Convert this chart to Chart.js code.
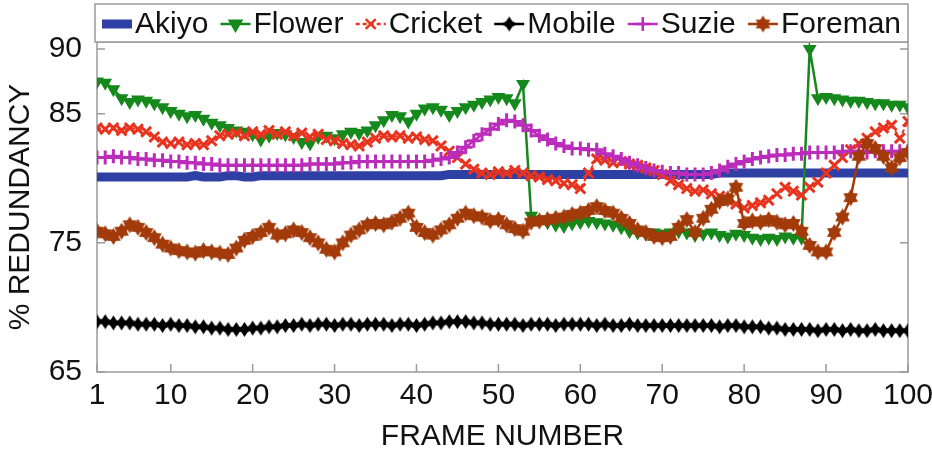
<!DOCTYPE html>
<html>
<head>
<meta charset="utf-8">
<script src="https://cdn.jsdelivr.net/npm/chart.js@4.4.1/dist/chart.umd.min.js"></script>
<style>
  html, body { margin: 0; padding: 0; background: #fff; }
  #wrap { width: 932px; height: 458px; }
</style>
</head>
<body>
<div id="wrap"><canvas id="chart" width="932" height="458"></canvas></div>
<script>
const frames = Array.from({ length: 100 }, (_, i) => i + 1);
const xTicks = [1, 10, 20, 30, 40, 50, 60, 70, 80, 90, 100];
const yTicks = [65, 75, 85, 90];

const akiyo = [
  80.1, 80.1, 80.1, 80.1, 80.1, 80.1, 80.1, 80.1, 80.1, 80.1,
  80.1, 80.1, 80.2, 80.1, 80.1, 80.1, 80.2, 80.2, 80.1, 80.1,
  80.2, 80.2, 80.2, 80.2, 80.2, 80.2, 80.2, 80.2, 80.2, 80.2,
  80.2, 80.2, 80.2, 80.2, 80.2, 80.2, 80.2, 80.2, 80.2, 80.2,
  80.2, 80.2, 80.2, 80.3, 80.3, 80.3, 80.3, 80.3, 80.3, 80.3,
  80.3, 80.3, 80.3, 80.3, 80.3, 80.3, 80.3, 80.3, 80.3, 80.3,
  80.3, 80.3, 80.3, 80.3, 80.3, 80.3, 80.3, 80.3, 80.3, 80.3,
  80.3, 80.3, 80.3, 80.3, 80.3, 80.3, 80.4, 80.4, 80.4, 80.4,
  80.4, 80.4, 80.4, 80.4, 80.4, 80.4, 80.4, 80.4, 80.4, 80.4,
  80.4, 80.4, 80.4, 80.4, 80.4, 80.4, 80.4, 80.4, 80.4, 80.4
];
const flower = [
  87.5, 87.4, 86.9, 86.2, 85.9, 86.1, 86.0, 85.8, 85.5, 85.2,
  85.0, 84.8, 84.9, 84.6, 84.3, 84.1, 83.9, 83.7, 83.6, 83.4,
  83.0, 83.3, 83.5, 83.4, 83.2, 82.8, 82.7, 83.2, 83.3, 83.1,
  83.4, 83.6, 83.5, 83.7, 84.1, 84.5, 84.9, 84.8, 84.4, 85.0,
  85.4, 85.5, 85.3, 84.9, 85.2, 85.5, 85.7, 85.9, 86.1, 86.3,
  86.2, 85.8, 87.3, 77.1, 76.8, 76.6, 76.4, 76.3, 76.5, 76.6,
  76.7, 76.6, 76.5, 76.4, 76.2, 75.9, 75.8, 75.7, 75.8, 75.7,
  75.8, 75.9, 75.8, 75.6, 75.7, 75.8, 75.6, 75.5, 75.7, 75.6,
  75.4, 75.3, 75.4, 75.3, 75.5, 75.4, 75.4, 90.0, 86.2, 86.3,
  86.2, 86.1, 86.0, 86.0, 85.9, 85.8, 85.8, 85.7, 85.7, 85.5
];
const cricket = [
  83.9, 83.8, 83.9, 83.7, 83.9, 83.8, 83.6, 83.2, 82.8, 82.7,
  82.8, 82.6, 82.7, 82.6, 82.9, 83.3, 83.4, 83.5, 83.3, 83.6,
  83.4, 83.7, 83.4, 83.6, 83.3, 83.5, 83.2, 83.4, 83.0, 82.9,
  82.7, 82.6, 82.5, 82.8, 83.1, 83.3, 83.2, 83.3, 83.1, 83.2,
  83.0, 82.9, 82.5, 82.1, 81.6, 81.1, 80.7, 80.4, 80.3, 80.5,
  80.4, 80.6, 80.4, 80.2, 80.1, 79.9, 79.8, 79.6, 79.5, 79.2,
  80.4, 81.5, 81.4, 81.2, 81.3, 81.1, 81.0, 80.8, 80.6, 80.3,
  79.8, 79.5, 79.2, 79.0, 79.1, 78.8, 78.6, 78.3, 78.0, 77.7,
  77.9, 78.1, 78.3, 78.8, 79.3, 79.0, 78.7, 79.3, 79.7, 80.4,
  81.0, 81.6, 82.2, 82.7, 83.1, 83.6, 83.9, 84.1, 83.1, 84.4
];
const mobile = [
  68.9, 68.9, 68.8, 68.8, 68.8, 68.7, 68.7, 68.7, 68.6, 68.7,
  68.6, 68.6, 68.5, 68.5, 68.4, 68.4, 68.3, 68.3, 68.3, 68.4,
  68.4, 68.5, 68.5, 68.6, 68.6, 68.7, 68.6, 68.7, 68.7, 68.6,
  68.7, 68.7, 68.6, 68.7, 68.7, 68.7, 68.6, 68.7, 68.7, 68.6,
  68.7, 68.8, 68.8, 68.9, 68.9, 68.9, 68.8, 68.8, 68.7, 68.7,
  68.7, 68.7, 68.6, 68.7, 68.7, 68.7, 68.6, 68.7, 68.7, 68.7,
  68.7, 68.6, 68.7, 68.6, 68.6, 68.7, 68.6, 68.6, 68.6, 68.6,
  68.6, 68.6, 68.6, 68.6, 68.6, 68.6, 68.5, 68.6, 68.6, 68.5,
  68.5, 68.5, 68.4, 68.4, 68.3, 68.3, 68.3, 68.3, 68.2, 68.3,
  68.3, 68.2, 68.3, 68.2, 68.2, 68.3, 68.2, 68.2, 68.2, 68.2
];
const suzie = [
  81.6, 81.6, 81.7, 81.6, 81.6, 81.5, 81.5, 81.4, 81.4, 81.3,
  81.3, 81.2, 81.2, 81.1, 81.1, 81.0, 81.0, 81.0, 81.0, 81.0,
  81.0, 81.0, 81.0, 81.0, 81.0, 81.0, 81.1, 81.1, 81.1, 81.1,
  81.2, 81.2, 81.3, 81.3, 81.3, 81.3, 81.3, 81.3, 81.3, 81.3,
  81.3, 81.4, 81.5, 81.6, 82.0, 82.4, 82.9, 83.4, 83.8, 84.2,
  84.5, 84.4, 84.1, 83.7, 83.3, 83.0, 82.7, 82.5, 82.3, 82.3,
  82.2, 82.2, 81.9, 81.7, 81.5, 81.2, 81.0, 80.8, 80.6, 80.5,
  80.4, 80.4, 80.3, 80.3, 80.3, 80.4, 80.6, 80.9, 81.1, 81.3,
  81.5, 81.6, 81.7, 81.8, 81.8, 81.9, 81.9, 82.0, 82.0, 82.0,
  82.0, 82.1, 82.1, 82.1, 82.0, 82.1, 82.1, 82.1, 82.1, 82.1
];
const foreman = [
  75.9, 75.7, 75.5, 75.9, 76.4, 76.2, 75.8, 75.4, 74.9, 74.6,
  74.4, 74.3, 74.2, 74.4, 74.3, 74.2, 74.1, 74.6, 75.2, 75.5,
  75.8, 76.2, 75.6, 75.7, 76.0, 75.8, 75.4, 75.0, 74.5, 74.3,
  75.0, 75.6, 76.0, 76.4, 76.5, 76.4, 76.6, 76.9, 77.3, 76.2,
  75.8, 75.6, 76.0, 76.4, 76.9, 77.3, 77.1, 77.0, 76.7, 76.8,
  76.4, 76.1, 75.9, 76.6, 76.7, 76.8, 76.9, 77.0, 77.2, 77.3,
  77.5, 77.8, 77.5, 77.3, 76.9, 76.5, 76.0, 75.8, 75.5, 75.4,
  75.5, 76.2, 76.8, 75.8, 76.9, 77.6, 78.2, 78.4, 79.3, 76.5,
  76.7, 76.6, 76.8, 76.6, 76.4, 76.5, 75.9, 74.8, 74.3, 74.3,
  75.8, 77.0, 78.5, 81.7, 82.7, 82.3, 81.7, 80.8, 81.6, 82.0
];

const FONT = "'Liberation Sans', Arial, Helvetica, sans-serif";
const colors = {
  akiyo: '#2f40a4',
  flower: '#15891c',
  cricket: '#e8341f',
  mobile: '#000000',
  suzie: '#bb2cbb',
  foreman: '#a23a0a'
};

// filled star markers (Foreman, Mobile)
function starMarker(color, r, points, inner) {
  const s = Math.ceil(2 * r + 2);
  const c = document.createElement('canvas');
  c.width = s; c.height = s;
  const g = c.getContext('2d');
  g.fillStyle = color;
  g.beginPath();
  for (let k = 0; k < points * 2; k++) {
    const a = -Math.PI / 2 + k * Math.PI / points;
    const rr = k % 2 ? r * inner : r;
    g.lineTo(s / 2 + rr * Math.cos(a), s / 2 + rr * Math.sin(a));
  }
  g.closePath();
  g.fill();
  return c;
}
const foremanStar = starMarker(colors.foreman, 8.5, 6, 0.6);
const mobileStar = starMarker(colors.mobile, 7.5, 4, 0.55);

const series = [
  { label: 'Akiyo', data: akiyo, color: colors.akiyo, lw: 9, point: false, order: 6 },
  { label: 'Flower', data: flower, color: colors.flower, lw: 2.5, point: 'triangle', rot: 180, r: 6.5, pbw: 1.5, order: 5 },
  { label: 'Cricket', data: cricket, color: colors.cricket, lw: 2, point: 'crossRot', r: 7, pbw: 3, dash: [4, 3], order: 4 },
  { label: 'Mobile', data: mobile, color: colors.mobile, lw: 2.5, point: mobileStar, r: 7.5, order: 3 },
  { label: 'Suzie', data: suzie, color: colors.suzie, lw: 2.5, point: 'cross', r: 7, pbw: 3, order: 2 },
  { label: 'Foreman', data: foreman, color: colors.foreman, lw: 2.5, point: foremanStar, r: 8.5, order: 1 }
];

const datasets = series.map(s => ({
  label: s.label,
  data: s.data,
  borderColor: s.color,
  backgroundColor: s.color,
  borderWidth: s.lw,
  borderDash: s.dash || [],
  pointStyle: s.point || 'circle',
  pointRotation: s.rot || 0,
  pointRadius: s.point ? s.r : 0,
  pointBorderWidth: s.pbw || 1,
  pointBorderColor: s.color,
  pointBackgroundColor: s.color,
  tension: 0,
  fill: false,
  order: s.order
}));

// gray plot frame with inward ticks
const framePlugin = {
  id: 'frame',
  beforeDatasetsDraw(chart) {
    const { ctx, chartArea: a, scales } = chart;
    ctx.save();
    ctx.strokeStyle = '#9a9a9a';
    ctx.lineWidth = 1.5;
    ctx.strokeRect(a.left, a.top, a.right - a.left, a.bottom - a.top);
    ctx.beginPath();
    xTicks.forEach(v => {
      const px = scales.x.getPixelForValue(v);
      ctx.moveTo(px, a.bottom); ctx.lineTo(px, a.bottom - 8);
    });
    yTicks.forEach(v => {
      const py = scales.y.getPixelForValue(v);
      ctx.moveTo(a.left, py); ctx.lineTo(a.left + 8, py);
      ctx.moveTo(a.right, py); ctx.lineTo(a.right - 8, py);
    });
    ctx.stroke();
    ctx.restore();
  }
};

// boxed legend with line + marker samples
const legendPlugin = {
  id: 'boxLegend',
  afterDraw(chart) {
    const { ctx, chartArea: a } = chart;
    const box = { left: a.left - 2, right: a.right, top: 4, bottom: a.top };
    ctx.save();
    ctx.fillStyle = '#fff';
    ctx.fillRect(box.left, box.top, box.right - box.left, box.bottom - box.top);
    ctx.strokeStyle = '#9a9a9a';
    ctx.lineWidth = 1.5;
    ctx.strokeRect(box.left, box.top, box.right - box.left, box.bottom - box.top);

    ctx.font = '30px ' + FONT;
    const seg = 30, gapText = 3;
    const widths = series.map(s => ctx.measureText(s.label).width);
    const total = widths.reduce((p, w) => p + w, 0) + series.length * (seg + gapText);
    const inner = box.right - box.left - 14;
    const gap = (inner - total) / (series.length - 1);
    let x = box.left + 7;
    const cy = (box.top + box.bottom) / 2 + 1;
    series.forEach((s, i) => {
      ctx.strokeStyle = s.color;
      ctx.fillStyle = s.color;
      ctx.lineWidth = s.point ? 2.5 : 9;
      ctx.setLineDash(s.dash || []);
      ctx.beginPath();
      ctx.moveTo(x, cy); ctx.lineTo(x + seg, cy);
      ctx.stroke();
      ctx.setLineDash([]);
      if (s.point) {
        Chart.helpers.drawPoint(ctx, {
          pointStyle: s.point, rotation: s.rot || 0,
          radius: s.r, borderWidth: s.pbw || 1
        }, x + seg / 2, cy);
      }
      ctx.fillStyle = '#111';
      ctx.textBaseline = 'middle';
      ctx.textAlign = 'left';
      ctx.fillText(s.label, x + seg + gapText, cy + 1);
      x += seg + gapText + widths[i] + gap;
    });
    ctx.restore();
  }
};

new Chart(document.getElementById('chart'), {
  type: 'line',
  data: { labels: frames, datasets },
  options: {
    responsive: false,
    animation: false,
    devicePixelRatio: 1,
    layout: { padding: { top: 42, right: 24, bottom: 0, left: 0 } },
    plugins: { legend: { display: false }, tooltip: { enabled: false } },
    scales: {
      x: {
        type: 'linear',
        min: 1,
        max: 100,
        afterBuildTicks: s => { s.ticks = xTicks.map(v => ({ value: v })); },
        afterFit: s => { s.height = 86; s.paddingLeft = 0; s.paddingRight = 0; },
        grid: { display: false, drawTicks: false },
        border: { display: false },
        ticks: { font: { family: FONT, size: 30 }, color: '#111', padding: 6, maxRotation: 0, autoSkip: false },
        title: { display: true, text: 'FRAME NUMBER', font: { family: FONT, size: 30 }, color: '#111', padding: { top: 0, bottom: 3 } }
      },
      y: {
        min: 65,
        max: 90.55,
        afterBuildTicks: s => { s.ticks = yTicks.map(v => ({ value: v })); },
        afterFit: s => { s.width = 97; },
        grid: { display: false, drawTicks: false },
        border: { display: false },
        ticks: { font: { family: FONT, size: 30 }, color: '#111', padding: 15 },
        title: { display: true, text: '% REDUNDANCY', font: { family: FONT, size: 30 }, color: '#111', padding: { top: 3, bottom: 0 } }
      }
    }
  },
  plugins: [framePlugin, legendPlugin]
});
</script>
</body>
</html>
